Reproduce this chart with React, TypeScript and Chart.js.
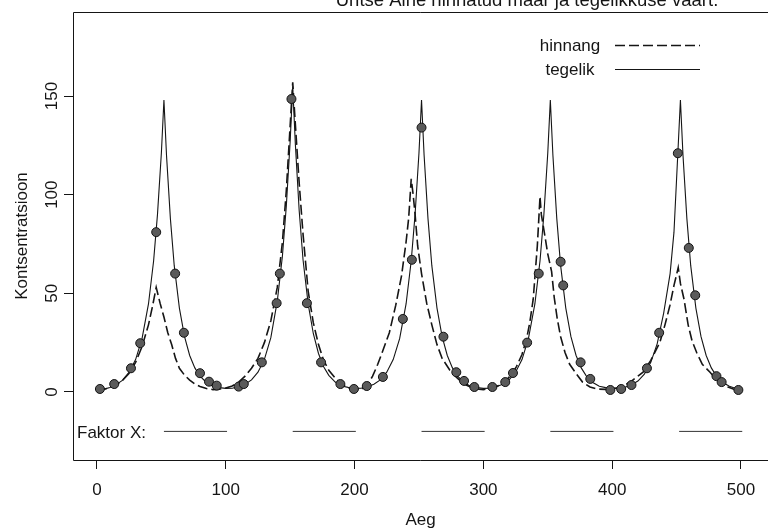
import React, { useEffect, useRef } from 'react';
import { Chart, registerables } from 'chart.js';

Chart.register(...registerables);

// ---- data ----
const tegelikX = [
  0, 5, 10, 15, 20, 25, 30, 35, 40, 44, 47, 50, 52, 54, 57, 60, 64, 68, 72, 76, 80, 85, 90, 95,
  100, 105, 110, 115, 120, 125, 130, 135, 140, 144, 147, 150, 152, 154, 157, 160, 164, 168, 172, 176, 180, 185, 190, 195,
  200, 205, 210, 215, 220, 225, 230, 235, 240, 244, 247, 250, 252, 254, 257, 260, 264, 268, 272, 276, 280, 285, 290, 295,
  300, 305, 310, 315, 320, 325, 330, 335, 340, 344, 347, 350, 352, 354, 357, 360, 364, 368, 372, 376, 380, 385, 390, 395,
  400, 405, 410, 415, 420, 425, 430, 435, 440, 445, 448, 451, 453, 455, 458, 461, 465, 469, 473, 477, 481, 486, 491, 495, 498,
];
const tegelikY = [
  1.0, 1.3, 2.2, 3.7, 6.0, 10, 16.4, 27, 44.6, 66.5, 90, 121, 148, 120, 88, 64, 42.5, 28, 18.5, 12.2, 8, 4.8, 2.9, 2.2,
  1.8, 1.9, 2.6, 3.9, 6.1, 10, 16.5, 27.5, 46, 69, 94, 127, 155, 126, 92, 67, 44.5, 29.5, 19.5, 12.8, 8.4, 5, 3, 2.3,
  1.8, 1.9, 2.6, 3.9, 6.1, 10, 16.4, 27, 44.6, 66.5, 90, 121, 148, 120, 88, 64, 42.5, 28, 18.5, 12.2, 8, 4.8, 2.9, 2.2,
  1.8, 1.9, 2.6, 3.9, 6.1, 10, 16.4, 27, 44.6, 66.5, 90, 121, 148, 120, 88, 64, 42.5, 28, 18.5, 12.2, 8, 4.8, 2.9, 2.2,
  1.8, 1.9, 2.4, 3.6, 5.5, 9, 15, 24.5, 40, 60, 81, 121, 148, 120, 88, 64, 42.5, 28, 18.5, 12.2, 8, 4.8, 2.9, 2, 1.4,
];

const hinnangX = [
  0, 5, 10, 15, 20, 25, 30, 35, 40, 43, 46, 49, 52, 55, 58, 61, 64, 68, 72, 76, 80, 85, 90, 95,
  100, 105, 110, 115, 120, 125, 130, 135, 140, 144, 147, 150, 152, 154, 157, 160, 164, 168, 172, 176, 180, 185, 190, 195,
  200, 205, 210, 214, 218, 222, 227, 232, 236.5, 240, 242, 244, 245.5, 247, 249, 252, 256, 260, 264, 268, 274, 279, 285, 290, 295,
  300, 305, 312.9, 318, 322, 325.8, 330, 333.6, 336, 338.7, 341.9, 344, 345, 347.8, 350, 353, 355, 357.4, 360, 363.4, 367, 372.4, 377, 382.8, 388, 395,
  400, 405, 410, 415, 420, 424, 430, 437, 441, 444.9, 448, 451.3, 453, 455.8, 459, 462, 465.6, 470, 476, 480, 486, 490, 494, 498,
];
const hinnangY = [
  1.0, 1.3, 2.2, 3.6, 6, 9.5, 15, 23, 34, 43, 53, 45, 38, 30, 24, 17, 12, 8.5, 6, 4, 2.8, 1.7, 1.2, 1.4,
  2, 3, 5, 8, 12, 17, 25, 36, 53, 76, 102, 135, 157, 136, 106, 80, 51, 35, 24, 16, 11, 7, 3.8, 2,
  1.2, 1.2, 3.5, 8, 14, 21, 30, 44, 59, 76, 88, 108, 100, 90, 74, 60, 45, 34, 24, 17, 11, 7.5, 4, 2.5, 1.5,
  1.2, 1.8, 3.5, 6, 9, 13, 19, 27, 35, 47, 74, 99, 90, 79, 70, 61, 48, 37, 28, 20, 14, 9, 5, 2.5, 1.5, 1.3,
  1.5, 2.2, 3.5, 5.5, 8, 10, 16, 25, 34, 44, 54, 63, 55, 47, 34, 26, 20, 14, 10, 7, 4, 2.5, 1.5, 0.8,
];

const vaatlusX = [
  2.3, 13.4, 26.4, 33.6, 46, 60.7, 67.5, 80, 87, 93, 110, 114, 128, 139.5, 142, 151, 163, 174, 189, 199.5,
  209.5, 222, 237.5, 244.5, 252, 269, 279, 285, 293, 307, 317, 323, 334, 343, 360, 362, 375.5, 383, 398.6, 407,
  415, 427, 436.5, 451, 459.5, 464.5, 481, 485, 498,
];
const vaatlusY = [
  1.5, 4, 12, 24.7, 81, 60, 30, 9.5, 5.2, 3.2, 2.7, 4, 15, 45, 60, 148.5, 45, 15, 4, 1.5,
  3, 7.6, 37, 67, 134, 28, 10, 5.6, 2.5, 2.5, 5, 9.6, 25, 60, 66, 54, 15, 6.6, 1, 1.5,
  3.5, 12, 30, 121, 73, 49, 8, 5, 1,
];

const faktorAlgus = [52, 152, 252, 352, 452];
const faktorLopp = [101, 201, 301, 401, 501];
const faktorTase = -20;

const xTicks = [0, 100, 200, 300, 400, 500];
const yTicks = [0, 50, 100, 150];

const titleText = 'Ühtse Aine hinnatud määr ja tegelikkuse väärt.';
const xTitle = 'Aeg';
const yTitle = 'Kontsentratsioon';
const faktorLabel = 'Faktor X:';
const legendLabels = ['hinnang', 'tegelik'];

const FONT = '"Liberation Sans", Arial, Helvetica, sans-serif';
const INK = '#151515';

const zip = (xs: number[], ys: number[]) =>
  xs.slice(0, Math.min(xs.length, ys.length)).map((x, i) => ({ x, y: ys[i] }));

const decorPlugin = {
  id: 'decor',
  afterDraw(chart: any) {
    const { ctx, chartArea: a, scales } = chart;
    ctx.save();
    // plot box (right side lies beyond the picture edge)
    ctx.strokeStyle = INK;
    ctx.lineWidth = 1;
    ctx.setLineDash([]);
    ctx.beginPath();
    ctx.moveTo(a.right, a.bottom + 0.5);
    ctx.lineTo(a.left + 0.5, a.bottom + 0.5);
    ctx.lineTo(a.left + 0.5, a.top + 0.5);
    ctx.lineTo(a.right, a.top + 0.5);
    ctx.stroke();

    // title (cut by the top edge as in the reference)
    ctx.fillStyle = INK;
    ctx.font = `18.5px ${FONT}`;
    ctx.textAlign = 'center';
    ctx.textBaseline = 'alphabetic';
    ctx.fillText(titleText, 527, 6);

    // legend
    ctx.font = `17px ${FONT}`;
    ctx.textBaseline = 'middle';
    const rows = [
      { label: legendLabels[0], y: 45, dash: [10, 4], w: 1.5 },
      { label: legendLabels[1], y: 69, dash: [], w: 1.1 },
    ];
    rows.forEach((r) => {
      ctx.textAlign = 'center';
      ctx.fillText(r.label, 570, r.y + 1);
      ctx.beginPath();
      ctx.setLineDash(r.dash);
      ctx.lineWidth = r.w;
      ctx.moveTo(615, r.y + 0.5);
      ctx.lineTo(700, r.y + 0.5);
      ctx.stroke();
    });
    ctx.setLineDash([]);

    // Faktor X label
    const fy = scales.y.getPixelForValue(faktorTase);
    ctx.textAlign = 'left';
    ctx.fillText(faktorLabel, a.left + 4, fy + 2);
    ctx.restore();
  },
};

export default function App() {
  const ref = useRef<HTMLCanvasElement | null>(null);

  useEffect(() => {
    if (!ref.current) return;
    const faktorData: any[] = [];
    faktorAlgus.forEach((s, i) => {
      faktorData.push({ x: s, y: faktorTase });
      faktorData.push({ x: faktorLopp[i], y: faktorTase });
      faktorData.push({ x: faktorLopp[i], y: null });
    });

    const chart = new Chart(ref.current, {
      type: 'line',
      data: {
        datasets: [
          {
            label: legendLabels[1],
            data: zip(tegelikX, tegelikY),
            borderColor: INK,
            borderWidth: 1.1,
            pointRadius: 0,
            tension: 0,
            fill: false,
            order: 3,
          },
          {
            label: legendLabels[0],
            data: zip(hinnangX, hinnangY),
            borderColor: INK,
            borderWidth: 1.6,
            borderDash: [10, 4],
            pointRadius: 0,
            tension: 0,
            fill: false,
            order: 2,
          },
          {
            label: 'vaatlused',
            data: zip(vaatlusX, vaatlusY),
            showLine: false,
            pointRadius: 4.5,
            pointBackgroundColor: '#5a5a5a',
            pointBorderColor: '#111',
            pointBorderWidth: 1,
            order: 1,
          },
          {
            label: faktorLabel,
            data: faktorData,
            borderColor: '#333',
            borderWidth: 1,
            pointRadius: 0,
            spanGaps: false,
            fill: false,
            order: 4,
          },
        ],
      },
      options: {
        responsive: false,
        animation: false,
        devicePixelRatio: 1,
        layout: { autoPadding: false, padding: { top: 12, left: 0, right: 0, bottom: 0 } },
        plugins: {
          legend: { display: false },
          tooltip: { enabled: false },
          title: { display: false },
        },
        scales: {
          x: {
            type: 'linear',
            min: -18.6,
            max: 521,
            afterBuildTicks: (axis: any) => {
              axis.ticks = xTicks.map((v) => ({ value: v }));
            },
            afterFit: (scale: any) => {
              scale.height = 72;
              scale.paddingLeft = 0;
              scale.paddingRight = 0;
            },
            grid: {
              display: true,
              drawOnChartArea: false,
              drawTicks: true,
              tickLength: 9,
              tickColor: INK,
              lineWidth: 1,
            },
            border: { display: false },
            ticks: {
              color: INK,
              font: { family: FONT, size: 17 },
              padding: 11,
              maxRotation: 0,
              autoSkip: false,
            },
            title: {
              display: true,
              text: xTitle,
              color: INK,
              font: { family: FONT, size: 17 },
              padding: { top: 0, bottom: 1 },
            },
          },
          y: {
            type: 'linear',
            min: -34.5,
            max: 192.6,
            afterBuildTicks: (axis: any) => {
              axis.ticks = yTicks.map((v) => ({ value: v }));
            },
            afterFit: (scale: any) => {
              scale.width = 73;
              scale.paddingTop = 0;
              scale.paddingBottom = 0;
            },
            grid: {
              display: true,
              drawOnChartArea: false,
              drawTicks: true,
              tickLength: 9,
              tickColor: INK,
              lineWidth: 1,
            },
            border: { display: false },
            ticks: {
              color: INK,
              font: { family: FONT, size: 17 },
              padding: -2,
              minRotation: 90,
              maxRotation: 90,
              crossAlign: 'center',
              autoSkip: false,
            },
            title: {
              display: true,
              text: yTitle,
              color: INK,
              font: { family: FONT, size: 17 },
              padding: { top: 12, bottom: 0 },
            },
          },
        },
      },
      plugins: [decorPlugin],
    } as any);

    return () => chart.destroy();
  }, []);

  return (
    <div style={{ position: 'fixed', left: 0, top: 0, width: 768, height: 532, background: '#fff', overflow: 'hidden' }}>
      <canvas ref={ref} width={768} height={532} style={{ display: 'block', width: 768, height: 532 }} />
    </div>
  );
}
